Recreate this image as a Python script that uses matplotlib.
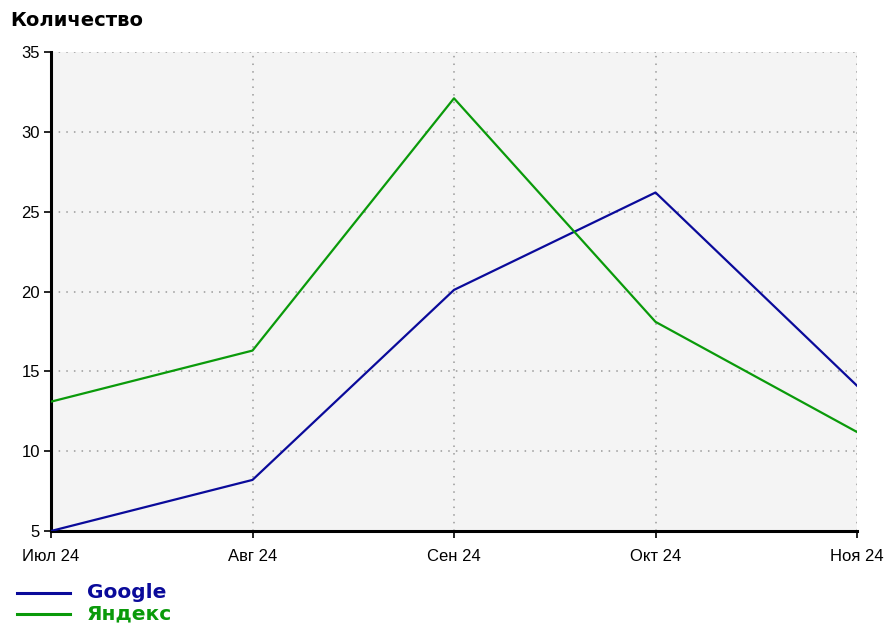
import matplotlib
matplotlib.use('Agg')
import matplotlib.pyplot as plt
from matplotlib.lines import Line2D

# данные
months = ['Июл 24', 'Авг 24', 'Сен 24', 'Окт 24', 'Ноя 24']
google = [5.0, 8.2, 20.1, 26.2, 14.1]
yandex = [13.1, 16.3, 32.1, 18.1, 11.2]
y_ticks = [5, 10, 15, 20, 25, 30, 35]

plt.rcParams['font.family'] = ['Liberation Sans', 'DejaVu Sans']

fig = plt.figure(figsize=(8.91, 6.30), dpi=100)
ax = fig.add_axes([51 / 891, 1 - 531 / 630, (857 - 51) / 891, (531 - 52) / 630])
ax.set_facecolor('#f4f4f4')

x = list(range(len(months)))
ax.plot(x, google, color='#0a0a9a', linewidth=1.6, zorder=3)
ax.plot(x, yandex, color='#0a9a0a', linewidth=1.6, zorder=3)

ax.set_xlim(0, len(months) - 1)
ax.set_ylim(5, 35)
ax.set_xticks(x)
ax.set_xticklabels(months)
ax.set_yticks(y_ticks)

ax.grid(True, linestyle=(0, (1, 4)), color='#999999', linewidth=1.1)
ax.set_axisbelow(True)

for s in ['top', 'right']:
    ax.spines[s].set_visible(False)
for s in ['left', 'bottom']:
    ax.spines[s].set_linewidth(2.2)
    ax.spines[s].set_color('black')

ax.tick_params(axis='both', labelsize=12, length=5, width=1.2, colors='black')
ax.tick_params(axis='x', pad=8)
ax.tick_params(axis='y', pad=3)

fig.text(10 / 891, 1 - 20 / 630, 'Количество', fontsize=14, fontweight='bold',
         family='DejaVu Sans', va='center', ha='left')

# легенда
for yy, lab, col in [(593, 'Google', '#0a0a9a'), (614, 'Яндекс', '#0a9a0a')]:
    fig.add_artist(Line2D([17 / 891, 70 / 891], [1 - yy / 630, 1 - yy / 630],
                          color=col, linewidth=2.2))
    fig.text(87 / 891, 1 - yy / 630, lab, color=col, fontsize=14.5, fontweight='bold',
             family='DejaVu Sans', va='center', ha='left')

fig.savefig('out.png', dpi=100)
